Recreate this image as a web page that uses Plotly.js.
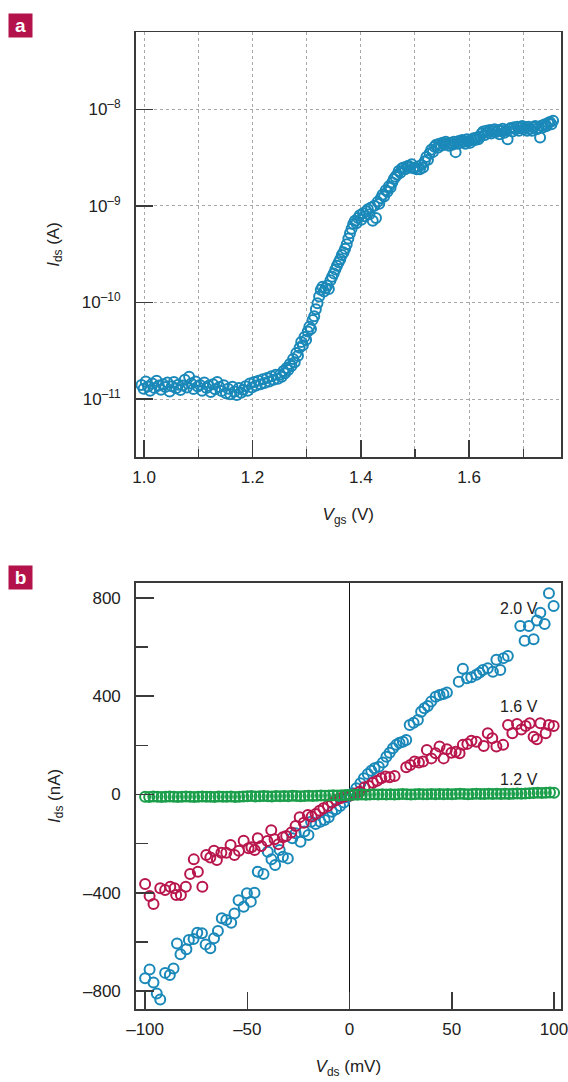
<!DOCTYPE html>
<html>
<head>
<meta charset="utf-8">
<script src="https://cdn.plot.ly/plotly-3.0.1.min.js"></script>
<style>html,body{margin:0;padding:0;background:#fff;}#chart{width:568px;height:1082px;}</style>
</head>
<body>
<div id="chart"></div>
<script>
// ---------- Panel a: Ids vs Vgs (log) ----------
const vgs = [
0.995,0.999,1.003,1.007,1.011,1.015,1.019,1.023,1.027,1.031,1.035,1.039,1.043,1.047,1.051,1.055,1.059,1.063,1.067,1.071,1.075,1.079,1.083,1.087,1.091,1.095,1.099,1.103,1.107,1.111,1.115,1.119,1.123,1.127,1.131,1.135,1.139,1.143,1.147,1.151,1.155,1.159,1.163,1.167,1.171,1.175,1.179,1.183,1.187,1.191,1.195,1.199,1.203,1.207,1.211,1.215,1.219,1.223,1.227,1.231,1.235,1.239,1.243,1.247,
1.251,1.254,1.257,1.260,1.263,1.266,1.269,1.272,1.275,1.278,1.281,1.284,1.287,1.290,1.293,1.296,1.299,1.302,1.305,1.308,1.311,1.314,1.317,1.320,1.323,1.326,1.329,1.332,1.335,1.338,1.341,
1.344,1.347,1.350,1.353,1.356,1.359,1.362,1.365,1.368,1.371,1.374,1.377,1.380,1.383,1.386,1.389,1.392,1.395,1.398,1.401,1.404,1.407,1.410,1.413,1.416,1.419,1.422,1.425,1.428,1.431,1.434,1.437,1.440,1.443,1.446,1.449,1.452,1.455,1.458,1.461,1.464,1.467,1.470,1.473,1.476,1.479,1.482,1.485,1.488,1.491,1.494,1.497,1.500,1.503,
1.506,1.509,1.512,1.515,1.518,1.521,1.524,1.527,1.530,1.533,1.536,1.539,1.542,1.545,1.548,1.551,1.554,1.557,1.560,1.563,1.566,1.569,1.572,1.575,1.578,1.581,1.584,1.587,1.590,1.593,1.596,1.599,1.602,1.605,1.608,1.611,1.614,1.617,1.620,1.623,1.626,1.629,1.632,1.635,1.638,1.641,1.644,1.647,1.650,1.653,1.656,1.659,1.662,1.665,1.668,1.671,1.674,1.677,1.680,1.683,1.686,1.689,1.692,1.695,1.698,1.701,1.704,1.707,1.710,1.713,1.716,1.719,1.722,1.725,1.728,1.731,1.734,1.737,1.740,1.743,1.746,1.749,1.752,1.755
];
const idsA = [
1.40e-11,1.28e-11,1.52e-11,1.35e-11,1.22e-11,1.45e-11,1.30e-11,1.55e-11,1.38e-11,1.25e-11,1.42e-11,1.33e-11,1.48e-11,1.20e-11,1.36e-11,1.50e-11,1.29e-11,1.41e-11,1.24e-11,1.38e-11,1.58e-11,1.32e-11,1.70e-11,1.45e-11,1.27e-11,1.52e-11,1.35e-11,1.40e-11,1.22e-11,1.48e-11,1.30e-11,1.37e-11,1.18e-11,1.42e-11,1.26e-11,1.50e-11,1.33e-11,1.21e-11,1.39e-11,1.15e-11,1.28e-11,1.12e-11,1.34e-11,1.20e-11,1.10e-11,1.30e-11,1.16e-11,1.25e-11,1.36e-11,1.22e-11,1.45e-11,1.32e-11,1.50e-11,1.38e-11,1.55e-11,1.42e-11,1.60e-11,1.47e-11,1.65e-11,1.52e-11,1.72e-11,1.58e-11,1.78e-11,1.62e-11,
1.80e-11,1.70e-11,1.95e-11,1.85e-11,2.10e-11,2.00e-11,2.30e-11,2.20e-11,2.60e-11,2.40e-11,3.00e-11,2.80e-11,3.40e-11,3.90e-11,3.60e-11,4.40e-11,4.10e-11,5.00e-11,5.60e-11,5.30e-11,6.60e-11,7.20e-11,8.50e-11,9.80e-11,1.15e-10,1.35e-10,1.45e-10,1.30e-10,1.40e-10,1.50e-10,1.38e-10,
1.70e-10,1.85e-10,2.00e-10,2.20e-10,2.40e-10,2.60e-10,2.80e-10,3.10e-10,3.30e-10,3.60e-10,4.00e-10,4.60e-10,5.20e-10,5.80e-10,6.50e-10,7.00e-10,6.60e-10,7.50e-10,8.00e-10,7.20e-10,8.40e-10,7.80e-10,8.80e-10,9.20e-10,8.20e-10,9.60e-10,7.00e-10,1.00e-9,7.50e-10,1.10e-9,1.05e-9,1.20e-9,1.30e-9,1.25e-9,1.45e-9,1.40e-9,1.60e-9,1.55e-9,1.75e-9,1.90e-9,2.00e-9,2.10e-9,2.30e-9,2.20e-9,2.45e-9,2.50e-9,2.40e-9,2.55e-9,2.60e-9,2.50e-9,2.70e-9,2.45e-9,2.50e-9,2.40e-9,
2.55e-9,2.40e-9,2.65e-9,2.50e-9,2.90e-9,3.20e-9,3.00e-9,3.50e-9,3.80e-9,3.60e-9,4.10e-9,4.30e-9,4.00e-9,4.40e-9,4.20e-9,4.50e-9,4.30e-9,4.60e-9,4.40e-9,4.20e-9,4.50e-9,4.30e-9,4.60e-9,3.60e-9,4.40e-9,4.70e-9,4.50e-9,4.80e-9,4.60e-9,4.40e-9,4.90e-9,4.70e-9,4.50e-9,4.80e-9,5.00e-9,4.80e-9,5.10e-9,4.90e-9,5.20e-9,5.60e-9,5.90e-9,5.40e-9,6.00e-9,5.70e-9,6.10e-9,5.60e-9,5.90e-9,6.20e-9,5.80e-9,6.10e-9,5.50e-9,6.00e-9,6.30e-9,5.70e-9,6.00e-9,4.90e-9,6.20e-9,6.40e-9,5.90e-9,6.50e-9,6.20e-9,6.60e-9,6.00e-9,6.40e-9,6.70e-9,6.20e-9,6.50e-9,6.00e-9,6.60e-9,6.30e-9,6.00e-9,6.50e-9,6.70e-9,6.20e-9,6.40e-9,5.10e-9,6.80e-9,6.50e-9,7.00e-9,6.70e-9,7.20e-9,7.40e-9,7.00e-9,7.60e-9
];
const aXTicks = [1.0, 1.2, 1.4, 1.6];
const aXTickText = ['1.0', '1.2', '1.4', '1.6'];
const aXMinor = [1.1, 1.3, 1.5, 1.7];
const aYTicks = [1e-11, 1e-10, 1e-9, 1e-8];
const aYTickText = ['10<sup>–11</sup>', '10<sup>–10</sup>', '10<sup>–9</sup>', '10<sup>–8</sup>'];

// ---------- Panel b: Ids vs Vds ----------
const vds20 = [-100.0,-97.8,-95.9,-94.3,-92.6,-90.2,-87.9,-86.1,-84.4,-82.7,-79.8,-78.6,-76.3,-74.5,-72.2,-70.4,-68.1,-66.3,-64.4,-62.5,-60.3,-57.9,-56.3,-54.3,-51.8,-50.2,-48.3,-46.5,-44.9,-42.1,-40.0,-38.2,-36.4,-34.2,-32.6,-30.2,-28.0,-26.4,-24.0,-22.1,-20.1,-18.8,-16.6,-14.3,-12.2,-10.2,-8.6,-6.6,-4.6,-2.8,-1.3,-0.3,1.6,3.3,5.3,7.0,8.9,10.6,12.2,14.3,16.3,18.0,19.6,21.2,22.8,24.4,26.1,27.7,29.4,31.3,33.4,35.0,36.6,38.3,39.9,42.1,44.0,45.9,47.6,53.4,55.4,57.4,59.5,62.0,63.6,65.2,67.6,70.1,71.8,73.7,75.3,77.4,83.5,85.6,87.7,90.0,91.6,93.3,95.4,97.5,99.8];
const ids20 = [-748,-712,-765,-810,-834,-726,-735,-708,-606,-650,-630,-592,-588,-563,-565,-610,-626,-585,-556,-504,-511,-522,-484,-430,-457,-402,-436,-400,-314,-324,-233,-264,-287,-226,-253,-260,-178,-158,-192,-151,-165,-111,-120,-111,-104,-93,-70,-60,-47,-33,-11,-2,5,25,46,66,83,97,107,113,130,154,170,188,202,211,215,222,283,292,303,337,351,360,378,398,405,409,415,459,512,473,477,487,496,507,514,500,548,507,555,564,686,626,686,632,708,740,694,819,767];

const vds16 = [-100.0,-97.8,-95.9,-92.6,-90.2,-87.7,-85.6,-84.8,-82.5,-80.1,-78.0,-76.2,-74.2,-72.0,-70.1,-68.1,-66.3,-64.9,-62.7,-60.3,-58.2,-56.3,-54.1,-51.8,-49.4,-48.0,-46.4,-44.9,-43.2,-40.2,-38.3,-36.7,-34.8,-32.6,-31.0,-28.5,-26.4,-24.4,-22.4,-20.4,-18.5,-16.6,-14.7,-12.8,-10.6,-8.6,-6.6,-4.6,-2.5,0.3,2.5,4.9,7.3,9.4,11.4,13.5,15.5,17.6,19.6,22.0,27.7,29.7,31.8,33.9,35.9,37.8,40.0,42.1,44.0,46.0,47.6,49.8,51.9,53.8,55.4,57.6,59.6,62.0,65.6,67.6,69.8,71.8,75.1,77.5,79.6,81.9,84.0,86.1,88.1,90.0,91.6,93.3,95.9,97.5,99.8];
const ids16 = [-364,-413,-446,-382,-389,-375,-382,-409,-409,-375,-324,-264,-314,-375,-246,-256,-229,-267,-237,-237,-206,-246,-229,-188,-219,-215,-226,-178,-210,-189,-145,-182,-202,-174,-169,-155,-128,-93,-115,-83,-90,-79,-66,-56,-47,-33,-22,-15,-8,-4,2,11,29,35,48,56,66,73,70,75,111,120,134,130,134,181,147,168,195,147,184,170,174,168,202,206,219,215,197,249,229,195,202,283,249,287,265,279,290,235,225,290,249,283,279];

const vds12 = [-100,-98,-96,-94,-92,-90,-88,-86,-84,-82,-80,-78,-76,-74,-72,-70,-68,-66,-64,-62,-60,-58,-56,-54,-52,-50,-48,-46,-44,-42,-40,-38,-36,-34,-32,-30,-28,-26,-24,-22,-20,-18,-16,-14,-12,-10,-8,-6,-4,-2,0,2,4,6,8,10,12,14,16,18,20,22,24,26,28,30,32,34,36,38,40,42,44,46,48,50,52,54,56,58,60,62,64,66,68,70,72,74,76,78,80,82,84,86,88,90,92,94,96,98,100];
const ids12 = [-9,-10,-8,-9,-10,-9,-8,-9,-10,-9,-8,-9,-10,-9,-8,-9,-9,-10,-8,-9,-9,-8,-10,-9,-8,-7,-6,-8,-7,-6,-7,-8,-6,-7,-6,-7,-5,-6,-7,-6,-5,-6,-5,-4,-5,-4,-3,-4,-3,-2,-2,-1,-1,0,-1,0,1,0,1,0,1,0,1,2,1,0,1,2,1,1,2,1,2,1,2,1,2,3,2,1,2,3,2,2,3,2,3,2,3,2,3,4,3,4,5,6,7,6,7,8,7];

const bXTicks = [-100, -50, 0, 50, 100];
const bXTickText = ['–100', '–50', '0', '50', '100'];
const bYTicks = [-800, -400, 0, 400, 800];
const bYTickText = ['–800', '–400', '0', '400', '800'];
const bYMinor = [-600, -200, 200, 600];
const seriesLabels = ['2.0 V', '1.6 V', '1.2 V'];
const labelPos = [[72.6, 755], [72.6, 357], [72.6, 63]];

// ---------- styling ----------
const FONT = 'Liberation Sans Narrow, Arial Narrow, Liberation Sans, Arial, sans-serif';
const BLUE = '#1a89b9', RED = '#b8164d', GREEN = '#1a9e4a';
const AX = '#3a3a3a';
const W = 568, H = 1082;

function mk(color, size) {
  return {symbol: 'circle-open', size: size, color: color, line: {color: color, width: 2}};
}

const data = [
  {x: vgs, y: idsA, type: 'scatter', mode: 'markers', marker: mk(BLUE, 10), xaxis: 'x', yaxis: 'y', showlegend: false},
  {x: vds20, y: ids20, type: 'scatter', mode: 'markers', marker: mk(BLUE, 10), xaxis: 'x2', yaxis: 'y2', name: seriesLabels[0], showlegend: false},
  {x: vds16, y: ids16, type: 'scatter', mode: 'markers', marker: mk(RED, 10), xaxis: 'x2', yaxis: 'y2', name: seriesLabels[1], showlegend: false},
  {x: vds12, y: ids12, type: 'scatter', mode: 'markers', marker: mk(GREEN, 10), xaxis: 'x2', yaxis: 'y2', name: seriesLabels[2], showlegend: false}
];

const tickFont = {family: FONT, size: 17, color: '#222'};
const titleFont = {family: FONT, size: 17, color: '#222'};

const layout = {
  width: W, height: H,
  margin: {l: 0, r: 0, t: 0, b: 0},
  paper_bgcolor: '#fff', plot_bgcolor: '#fff',
  showlegend: false,
  font: {family: FONT, color: '#222'},
  xaxis: {
    domain: [135.5 / W, 561 / W],
    range: [0.984, 1.7696],
    tickvals: aXTicks, ticktext: aXTickText,
    ticks: 'inside', ticklen: 17, tickwidth: 1.5, tickcolor: AX,
    showline: true, linecolor: AX, linewidth: 1.5, mirror: true,
    showgrid: true, gridcolor: '#a8a8a8', gridwidth: 1, griddash: '3px,3px',
    minor: {tickvals: aXMinor, ticks: 'inside', ticklen: 8, tickwidth: 1.2, tickcolor: AX,
            showgrid: true, gridcolor: '#a8a8a8', gridwidth: 1, griddash: '3px,3px'},
    zeroline: false,
    tickfont: tickFont, ticklabelstandoff: 4, ticklabeloverflow: 'allow',
    title: {text: '<i>V</i><sub>gs</sub> (V)', font: titleFont, standoff: 22},
    anchor: 'y'
  },
  yaxis: {
    domain: [1 - 457 / H, 1 - 32 / H],
    type: 'log',
    range: [-11.6, -7.2],
    tickvals: aYTicks, ticktext: aYTickText,
    ticks: 'inside', ticklen: 17, tickwidth: 1.5, tickcolor: AX,
    showline: true, linecolor: AX, linewidth: 1.5, mirror: true,
    showgrid: true, gridcolor: '#a8a8a8', gridwidth: 1, griddash: '3px,3px',
    zeroline: false,
    tickfont: tickFont, ticklabelstandoff: 10, ticklabeloverflow: 'allow',
    title: {text: '<i>I</i><sub>ds</sub> (A)', font: titleFont, standoff: 18},
    anchor: 'x'
  },
  xaxis2: {
    domain: [135.7 / W, 561 / W],
    range: [-104.6, 103.4],
    tickvals: bXTicks, ticktext: bXTickText,
    ticks: 'inside', ticklen: 17, tickwidth: 1.5, tickcolor: AX,
    showline: true, linecolor: AX, linewidth: 1.5, mirror: true,
    showgrid: false,
    zeroline: true, zerolinecolor: '#111', zerolinewidth: 1.2,
    tickfont: tickFont, ticklabelstandoff: 4, ticklabeloverflow: 'allow',
    title: {text: '<i>V</i><sub>ds</sub> (mV)', font: titleFont, standoff: 22},
    anchor: 'y2'
  },
  yaxis2: {
    domain: [1 - 1009 / H, 1 - 582.7 / H],
    range: [-873, 862],
    tickvals: bYTicks, ticktext: bYTickText,
    ticks: 'inside', ticklen: 18, tickwidth: 1.5, tickcolor: AX,
    minor: {tickvals: bYMinor, ticks: 'inside', ticklen: 12, tickwidth: 1.5, tickcolor: AX, showgrid: false},
    showline: true, linecolor: AX, linewidth: 1.5, mirror: true,
    showgrid: false, zeroline: false,
    tickfont: tickFont, ticklabelstandoff: 10, ticklabeloverflow: 'allow',
    title: {text: '<i>I</i><sub>ds</sub> (nA)', font: titleFont, standoff: 18},
    anchor: 'x2'
  },
  annotations: [
    {text: '<b>a</b>', xref: 'paper', yref: 'paper', x: 20.5 / W, y: 1 - 25.3 / H, xanchor: 'center', yanchor: 'middle',
     showarrow: false, bgcolor: '#b3134a', width: 23, height: 23, borderpad: 0, font: {family: 'Liberation Sans, Arial, sans-serif', size: 19, color: '#fff'}},
    {text: '<b>b</b>', xref: 'paper', yref: 'paper', x: 20.5 / W, y: 1 - 577.3 / H, xanchor: 'center', yanchor: 'middle',
     showarrow: false, bgcolor: '#b3134a', width: 23, height: 23, borderpad: 0, font: {family: 'Liberation Sans, Arial, sans-serif', size: 19, color: '#fff'}}
  ].concat(seriesLabels.map((t, i) => ({
    text: t, xref: 'x2', yref: 'y2', x: labelPos[i][0], y: labelPos[i][1], xanchor: 'left', yanchor: 'middle',
    showarrow: false, font: {family: FONT, size: 16, color: '#222'}
  })))
};

Plotly.newPlot('chart', data, layout, {staticPlot: true, displayModeBar: false});
</script>
</body>
</html>
